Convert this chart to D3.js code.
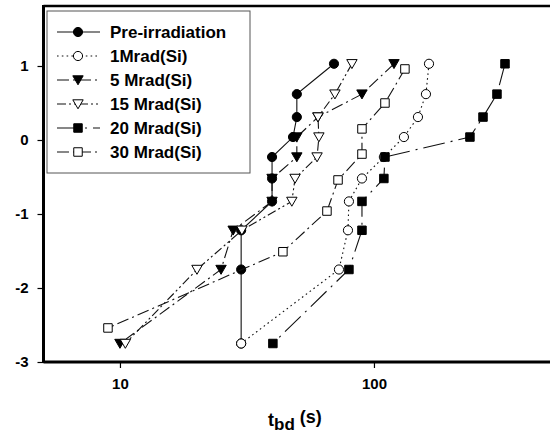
<!DOCTYPE html>
<html>
<head>
<meta charset="utf-8">
<script src="https://cdn.jsdelivr.net/npm/d3@7"></script>
<style>
    body { margin: 0; background: #fff; }
    svg { display: block; font-family: "Liberation Sans", Arial, sans-serif; }
    .tick-label { font-size: 15px; font-weight: bold; }
    .legend-text { font-size: 17px; font-weight: bold; }
</style>
</head>
<body>
<svg id="chart" width="550" height="436"></svg>
<script>
// y values shared by the 10-device groups (Weibull scale)
var yLevels = [1.03, 0.62, 0.31, 0.04, -0.23, -0.52, -0.83, -1.22, -1.75, -2.75];
var y30 = [0.96, 0.50, 0.15, -0.19, -0.54, -0.96, -1.51, -2.54];

var tPre = [69.6, 49.7, 49.7, 48.0, 39.7, 39.7, 39.7, 30.0, 30.0, 30.0];
var t1 = [164.7, 160.2, 149.0, 131.2, 109.4, 89.7, 79.7, 79.0, 72.8, 30.0];
var t5 = [119.9, 89.7, 60.2, 49.7, 49.7, 39.7, 39.7, 27.9, 25.0, 10.0];
var t15 = [81.9, 70.2, 60.2, 60.7, 59.7, 48.9, 47.5, 30.2, 20.1, 10.5];
var t20 = [328, 305, 268.7, 238.7, 110.5, 109.4, 89.7, 89.7, 79.7, 40.0];
var t30 = [132.4, 110.5, 89.7, 89.7, 72.2, 65.3, 43.8, 8.97];

var seriesNames = ["Pre-irradiation", "1Mrad(Si)", "5 Mrad(Si)", "15 Mrad(Si)", "20 Mrad(Si)", "30 Mrad(Si)"];
var xTicks = [10, 100];
var yTicks = [1, 0, -1, -2, -3];

var series = [
    { name: seriesNames[0], t: tPre, y: yLevels, sym: "circle", fill: "#000", dash: null },
    { name: seriesNames[1], t: t1, y: yLevels, sym: "circle", fill: "#fff", dash: "1.6,3.2" },
    { name: seriesNames[2], t: t5, y: yLevels, sym: "down", fill: "#000", dash: "12,4,2,4" },
    { name: seriesNames[3], t: t15, y: yLevels, sym: "down", fill: "#fff", dash: "9,3,2,3,2,3" },
    { name: seriesNames[4], t: t20, y: yLevels, sym: "square", fill: "#000", dash: "22,6,2,6" },
    { name: seriesNames[5], t: t30, y: y30, sym: "square", fill: "#fff", dash: "12,4,2,4" }
];

var svg = d3.select("#chart");

var x = d3.scaleLog().domain([5, 500]).range([43.5, 551.5]);
var y = d3.scaleLinear().domain([-3, 1.8]).range([362, 6.8]);

function symbolPath(sym) {
    if (sym == "circle") return d3.symbol().type(d3.symbolCircle).size(66)();
    if (sym == "square") return d3.symbol().type(d3.symbolSquare).size(72)();
    // downward triangle
    return "M-5.2,-4.2L5.2,-4.2L0,4.8Z";
}

// data lines + markers
series.forEach(function (s) {
    var pts = s.t.map(function (t, i) { return [t, s.y[i]]; });
    var g = svg.append("g").attr("class", "series");
    g.append("path")
        .datum(pts)
        .attr("fill", "none")
        .attr("stroke", "#111")
        .attr("stroke-width", 1.1)
        .attr("stroke-dasharray", s.dash)
        .attr("d", d3.line()
            .x(function (d) { return x(d[0]); })
            .y(function (d) { return y(d[1]); }));
    g.selectAll("path.marker")
        .data(pts)
        .enter()
        .append("path")
        .attr("class", "marker")
        .attr("transform", function (d) { return "translate(" + x(d[0]) + "," + y(d[1]) + ")"; })
        .attr("d", symbolPath(s.sym))
        .attr("fill", s.fill)
        .attr("stroke", "#000")
        .attr("stroke-width", 1);
});

// frame
svg.append("line").attr("x1", 43.5).attr("x2", 552).attr("y1", 6).attr("y2", 6)
    .attr("stroke", "#000").attr("stroke-width", 2.5);

// axes
var xAxis = d3.axisBottom(x).tickValues(xTicks).tickFormat(d3.format("d")).tickSize(6).tickPadding(10);
var gx = svg.append("g").attr("transform", "translate(0,362)").call(xAxis);
gx.select(".domain").attr("stroke-width", 3).attr("d", "M43.5,0H552");
gx.selectAll(".tick line").attr("stroke-width", 1.2);
gx.selectAll(".tick text").attr("class", "tick-label").attr("fill", "#000").attr("font-family", null).attr("font-size", null);

var yAxis = d3.axisLeft(y).tickValues(yTicks).tickFormat(d3.format("d")).tickSize(6).tickPadding(9);
var gy = svg.append("g").attr("transform", "translate(43.5,0)").call(yAxis);
gy.select(".domain").attr("stroke-width", 3).attr("d", "M0,5V363");
gy.selectAll(".tick line").attr("stroke-width", 1.2);
gy.selectAll(".tick text").attr("class", "tick-label").attr("fill", "#000").attr("font-family", null).attr("font-size", null)
    .text(function (d) { return d < 0 ? "-" + Math.abs(d) : d; });

// x-axis title: t_bd (s)
var title = svg.append("text")
    .attr("x", 268)
    .attr("y", 426)
    .attr("font-size", 18)
    .attr("font-weight", "bold");
title.append("tspan").text("t");
title.append("tspan").attr("dy", 4).attr("font-size", 17).text("bd");
title.append("tspan").attr("dy", -7).text(" (s)");

// legend
var legend = svg.append("g").attr("class", "legend");
legend.append("rect")
    .attr("x", 47).attr("y", 11)
    .attr("width", 203).attr("height", 162)
    .attr("fill", "#fff")
    .attr("stroke", "#555")
    .attr("stroke-width", 1);

var items = legend.selectAll("g.item")
    .data(series)
    .enter()
    .append("g")
    .attr("class", "item")
    .attr("transform", function (d, i) { return "translate(0," + (32 + i * 24) + ")"; });

items.append("line")
    .attr("x1", 57).attr("x2", 100)
    .attr("stroke", "#111")
    .attr("stroke-width", 1.1)
    .attr("stroke-dasharray", function (d) { return d.dash; });
items.append("path")
    .attr("transform", "translate(78,0)")
    .attr("d", function (d) { return symbolPath(d.sym); })
    .attr("fill", function (d) { return d.fill; })
    .attr("stroke", "#000");
items.append("text")
    .attr("class", "legend-text")
    .attr("x", 110)
    .attr("dy", "0.36em")
    .text(function (d) { return d.name; });
</script>
</body>
</html>
